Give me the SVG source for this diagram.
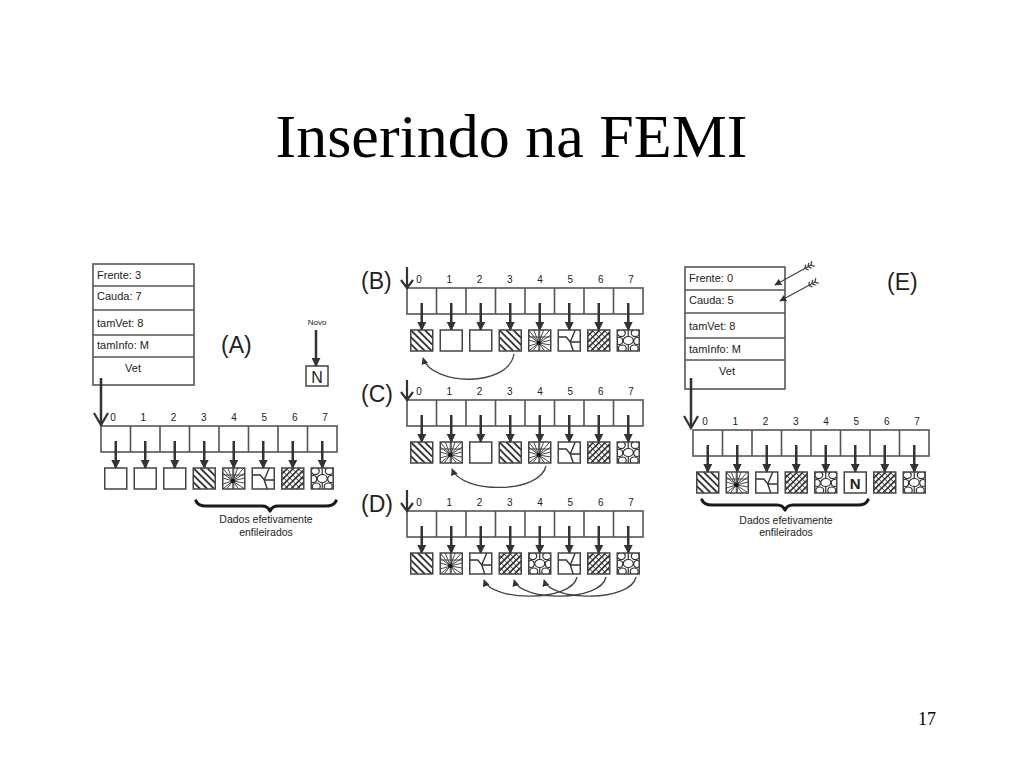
<svg xmlns="http://www.w3.org/2000/svg" xmlns:xlink="http://www.w3.org/1999/xlink" width="1024" height="768" viewBox="0 0 1024 768">
<style>
.title{font-family:"Liberation Serif","Times New Roman",serif;font-size:62px;fill:#000}
.pg{font-family:"Liberation Serif","Times New Roman",serif;font-size:18px;fill:#000}
.lbl{font-family:"Liberation Sans",Arial,sans-serif;font-size:23px;fill:#222}
.st{font-family:"Liberation Sans",Arial,sans-serif;font-size:11px;fill:#222}
.idx{font-family:"Liberation Sans",Arial,sans-serif;font-size:10px;fill:#222;text-anchor:middle}
.cap{font-family:"Liberation Sans",Arial,sans-serif;font-size:10.5px;fill:#222;text-anchor:middle}
.cell{fill:none;stroke:#555;stroke-width:1.6}
.box{fill:none;stroke:#444;stroke-width:1.5}
.ptr{stroke:#333;stroke-width:2.5;fill:none}
.vee{stroke:#333;stroke-width:2.2;fill:none;stroke-linejoin:miter}
.crv{stroke:#444;stroke-width:1.3;fill:none}
.brace{stroke:#1a1a1a;stroke-width:3.2;fill:none;stroke-linecap:round;stroke-linejoin:round}
.pat{stroke:#333;fill:none}
</style>
<defs>
<marker id="ah" viewBox="0 0 10 10" refX="9" refY="5" markerUnits="userSpaceOnUse" markerWidth="9" markerHeight="9" orient="auto"><path d="M0,0 L10,5 L0,10 z" fill="#333"/></marker>
<marker id="ahs" viewBox="0 0 10 10" refX="9" refY="5" markerUnits="userSpaceOnUse" markerWidth="7" markerHeight="7" orient="auto"><path d="M0,0 L10,5 L0,10 z" fill="#333"/></marker>
<clipPath id="bc"><rect x="0" y="0" width="22" height="21"/></clipPath>
<g id="arr">
<rect x="0" y="0" width="236" height="26" class="cell"/>
<path class="cell" d="M29.5,0V26M59,0V26M88.5,0V26M118,0V26M147.5,0V26M177,0V26M206.5,0V26"/>
<text class="idx" x="12" y="-5">0</text>
<text class="idx" x="42.3" y="-5">1</text>
<text class="idx" x="72.6" y="-5">2</text>
<text class="idx" x="102.9" y="-5">3</text>
<text class="idx" x="133.1" y="-5">4</text>
<text class="idx" x="163.4" y="-5">5</text>
<text class="idx" x="193.7" y="-5">6</text>
<text class="idx" x="224" y="-5">7</text>
<path class="ptr" marker-end="url(#ah)" d="M14.75,15V42"/>
<path class="ptr" marker-end="url(#ah)" d="M44.25,15V42"/>
<path class="ptr" marker-end="url(#ah)" d="M73.75,15V42"/>
<path class="ptr" marker-end="url(#ah)" d="M103.25,15V42"/>
<path class="ptr" marker-end="url(#ah)" d="M132.75,15V42"/>
<path class="ptr" marker-end="url(#ah)" d="M162.25,15V42"/>
<path class="ptr" marker-end="url(#ah)" d="M191.75,15V42"/>
<path class="ptr" marker-end="url(#ah)" d="M221.25,15V42"/>
</g>
<g id="f-e"><rect class="box" x="0" y="0" width="22" height="21" fill="#fff"/></g>
<g id="f-str"><g clip-path="url(#bc)"><path class="pat" stroke-width="1.8" d="M-21,0L0,21M-14,0L7,21M-7,0L14,21M0,0L21,21M7,0L28,21M14,0L35,21"/></g><rect class="box" x="0" y="0" width="22" height="21"/></g>
<g id="f-star"><g clip-path="url(#bc)"><path class="pat" stroke-width="0.9" d="M10,13L0,0M10,13L5,0M10,13L10,0M10,13L15,0M10,13L21,0M10,13L22,5M10,13L22,10M10,13L22,15M10,13L22,21M10,13L16,21M10,13L10,21M10,13L4,21M10,13L0,21M10,13L0,16M10,13L0,10M10,13L0,5M0,7H22M11,0V21"/><circle cx="10" cy="13" r="2" fill="#111"/></g><rect class="box" x="0" y="0" width="22" height="21"/></g>
<g id="f-y"><g clip-path="url(#bc)"><path class="pat" stroke-width="1.4" d="M0,7H8L12,12L17,0M12,12L15,21M12,12H22"/></g><rect class="box" x="0" y="0" width="22" height="21"/></g>
<g id="f-x"><g clip-path="url(#bc)"><path class="pat" stroke-width="1.6" d="M-21,21L0,0M-15,21L6,0M-9,21L12,0M-3,21L18,0M3,21L24,0M9,21L30,0M15,21L36,0"/><path class="pat" stroke-width="1" d="M-20,0L1,21M-14,0L7,21M-8,0L13,21M-2,0L19,21M4,0L25,21M10,0L31,21M16,0L37,21"/></g><rect class="box" x="0" y="0" width="22" height="21"/></g>
<g id="f-bub"><g clip-path="url(#bc)" fill="none" stroke="#333" stroke-width="1.2"><ellipse cx="4" cy="3" rx="4" ry="3.5"/><ellipse cx="18" cy="3" rx="4" ry="3.5"/><ellipse cx="11" cy="10.5" rx="5" ry="4"/><ellipse cx="2" cy="11" rx="3.5" ry="3.5"/><ellipse cx="20" cy="11" rx="3.5" ry="3.5"/><ellipse cx="5" cy="18.5" rx="4" ry="3.5"/><ellipse cx="17" cy="18.5" rx="4" ry="3.5"/><path d="M11,0V6.5M11,14.5V21"/></g><rect class="box" x="0" y="0" width="22" height="21"/></g>
<g id="f-n"><rect class="box" x="0" y="0" width="22" height="21" fill="#fff"/><text x="11" y="16.5" font-family="Liberation Sans,Arial,sans-serif" font-size="15" font-weight="bold" fill="#222" text-anchor="middle">N</text></g>
</defs>
<rect x="0" y="0" width="1024" height="768" fill="#fff"/>
<text class="title" x="511.5" y="157" text-anchor="middle">Inserindo na FEMI</text>
<text class="pg" x="918" y="725">17</text>

<g id="structA">
<rect class="cell" x="93" y="264" width="101" height="121"/>
<path class="cell" d="M93,286H194M93,310H194M93,335H194M93,357H194"/>
<text class="st" x="97" y="279">Frente: 3</text>
<text class="st" x="97" y="300">Cauda: 7</text>
<text class="st" x="97" y="327">tamVet: 8</text>
<text class="st" x="97" y="349">tamInfo: M</text>
<text class="st" x="133" y="372" text-anchor="middle">Vet</text>
</g>
<text id="labelA" class="lbl" x="221" y="353" font-size="24">(A)</text>
<g id="novo">
<text x="317" y="325" font-family="Liberation Sans,Arial,sans-serif" font-size="8" fill="#222" text-anchor="middle">Novo</text>
<rect class="box" x="306" y="366" width="22" height="20" fill="#fff"/>
<text x="317" y="382.5" font-family="Liberation Sans,Arial,sans-serif" font-size="16" fill="#222" text-anchor="middle">N</text>
</g>

<g id="arrayA" transform="translate(101,426)">
<use xlink:href="#arr" href="#arr"/>
<use xlink:href="#f-e" href="#f-e" x="3.75" y="42"/>
<use xlink:href="#f-e" href="#f-e" x="33.25" y="42"/>
<use xlink:href="#f-e" href="#f-e" x="62.75" y="42"/>
<use xlink:href="#f-str" href="#f-str" x="92.25" y="42"/>
<use xlink:href="#f-star" href="#f-star" x="121.75" y="42"/>
<use xlink:href="#f-y" href="#f-y" x="151.25" y="42"/>
<use xlink:href="#f-x" href="#f-x" x="180.75" y="42"/>
<use xlink:href="#f-bub" href="#f-bub" x="210.25" y="42"/>
</g>
<g id="captionA">
<path class="brace" d="M196,501 Q198,506 206,506 L262,506 Q268,506 270,511 Q272,506 278,506 L326,506 Q334,506 336,501"/>
<text class="cap" x="266" y="523">Dados efetivamente</text>
<text class="cap" x="266" y="536">enfileirados</text>
</g>

<text id="labelB" class="lbl" x="361" y="289">(B)</text>
<g id="arrayB" transform="translate(407,288)">
<use xlink:href="#arr" href="#arr"/>
<use xlink:href="#f-str" href="#f-str" x="3.75" y="42"/>
<use xlink:href="#f-e" href="#f-e" x="33.25" y="42"/>
<use xlink:href="#f-e" href="#f-e" x="62.75" y="42"/>
<use xlink:href="#f-str" href="#f-str" x="92.25" y="42"/>
<use xlink:href="#f-star" href="#f-star" x="121.75" y="42"/>
<use xlink:href="#f-y" href="#f-y" x="151.25" y="42"/>
<use xlink:href="#f-x" href="#f-x" x="180.75" y="42"/>
<use xlink:href="#f-bub" href="#f-bub" x="210.25" y="42"/>
</g>

<text id="labelC" class="lbl" x="361" y="402">(C)</text>
<g id="arrayC" transform="translate(407,400)">
<use xlink:href="#arr" href="#arr"/>
<use xlink:href="#f-str" href="#f-str" x="3.75" y="42"/>
<use xlink:href="#f-star" href="#f-star" x="33.25" y="42"/>
<use xlink:href="#f-e" href="#f-e" x="62.75" y="42"/>
<use xlink:href="#f-str" href="#f-str" x="92.25" y="42"/>
<use xlink:href="#f-star" href="#f-star" x="121.75" y="42"/>
<use xlink:href="#f-y" href="#f-y" x="151.25" y="42"/>
<use xlink:href="#f-x" href="#f-x" x="180.75" y="42"/>
<use xlink:href="#f-bub" href="#f-bub" x="210.25" y="42"/>
</g>

<text id="labelD" class="lbl" x="361" y="512">(D)</text>
<g id="arrayD" transform="translate(407,511)">
<use xlink:href="#arr" href="#arr"/>
<use xlink:href="#f-str" href="#f-str" x="3.75" y="42"/>
<use xlink:href="#f-star" href="#f-star" x="33.25" y="42"/>
<use xlink:href="#f-y" href="#f-y" x="62.75" y="42"/>
<use xlink:href="#f-x" href="#f-x" x="92.25" y="42"/>
<use xlink:href="#f-bub" href="#f-bub" x="121.75" y="42"/>
<use xlink:href="#f-y" href="#f-y" x="151.25" y="42"/>
<use xlink:href="#f-x" href="#f-x" x="180.75" y="42"/>
<use xlink:href="#f-bub" href="#f-bub" x="210.25" y="42"/>
</g>

<g id="structE">
<rect class="cell" x="685" y="267" width="100" height="122"/>
<path class="cell" d="M685,290H785M685,313H785M685,338H785M685,360H785"/>
<text class="st" x="689" y="282">Frente: 0</text>
<text class="st" x="689" y="304">Cauda: 5</text>
<text class="st" x="689" y="330">tamVet: 8</text>
<text class="st" x="689" y="353">tamInfo: M</text>
<text class="st" x="727" y="375" text-anchor="middle">Vet</text>
</g>
<text id="labelE" class="lbl" x="887" y="290" font-size="24">(E)</text>
<g id="arrayE" transform="translate(693,430)">
<use xlink:href="#arr" href="#arr"/>
<use xlink:href="#f-str" href="#f-str" x="3.75" y="42"/>
<use xlink:href="#f-star" href="#f-star" x="33.25" y="42"/>
<use xlink:href="#f-y" href="#f-y" x="62.75" y="42"/>
<use xlink:href="#f-x" href="#f-x" x="92.25" y="42"/>
<use xlink:href="#f-bub" href="#f-bub" x="121.75" y="42"/>
<use xlink:href="#f-n" href="#f-n" x="151.25" y="42"/>
<use xlink:href="#f-x" href="#f-x" x="180.75" y="42"/>
<use xlink:href="#f-bub" href="#f-bub" x="210.25" y="42"/>
</g>
<g id="captionE">
<path class="brace" d="M702,500 Q704,505 712,505 L777,505 Q783,505 785,510 Q787,505 793,505 L858,505 Q866,505 868,500"/>
<text class="cap" x="786" y="524">Dados efetivamente</text>
<text class="cap" x="786" y="536">enfileirados</text>
</g>

<g id="connectors">
<path class="ptr" marker-end="url(#ah)" d="M316,330V366"/>
<path class="ptr" d="M101,378V425"/>
<path class="vee" d="M94,413L101,425L108,413"/>
<path class="ptr" d="M691,378V428"/>
<path class="vee" d="M684,416L691,428L698,416"/>
<path class="vee" d="M407,267V288M401,280L407,288L413,280"/>
<path class="vee" d="M407,380V400M401,392L407,400L413,392"/>
<path class="vee" d="M407,490V511M401,503L407,511L413,503"/>
<path class="crv" marker-end="url(#ahs)" d="M514,354 C508,388 432,386 423,358"/>
<path class="crv" marker-end="url(#ahs)" d="M546,466 C540,494 462,494 452,469"/>
<path class="crv" marker-end="url(#ahs)" d="M577,577 C572,602 492,602 484,580"/>
<path class="crv" marker-end="url(#ahs)" d="M606,577 C601,602 521,602 514,580"/>
<path class="crv" marker-end="url(#ahs)" d="M636,577 C631,602 551,602 544,580"/>
<path class="crv" marker-end="url(#ahs)" d="M811,265L775,285"/>
<path class="crv" d="M814.6,266.4L811,265L811.7,261.2M811.6,268.1L808,266.7L808.7,262.9M808.5,269.8L804.9,268.4L805.6,264.6"/>
<path class="crv" marker-end="url(#ahs)" d="M815,282L780,301"/>
<path class="crv" d="M818.6,283.4L815,282L815.7,278.2M815.5,285.1L811.9,283.7L812.6,279.9M812.4,286.8L808.8,285.4L809.5,281.6"/>
</g>
</svg>
